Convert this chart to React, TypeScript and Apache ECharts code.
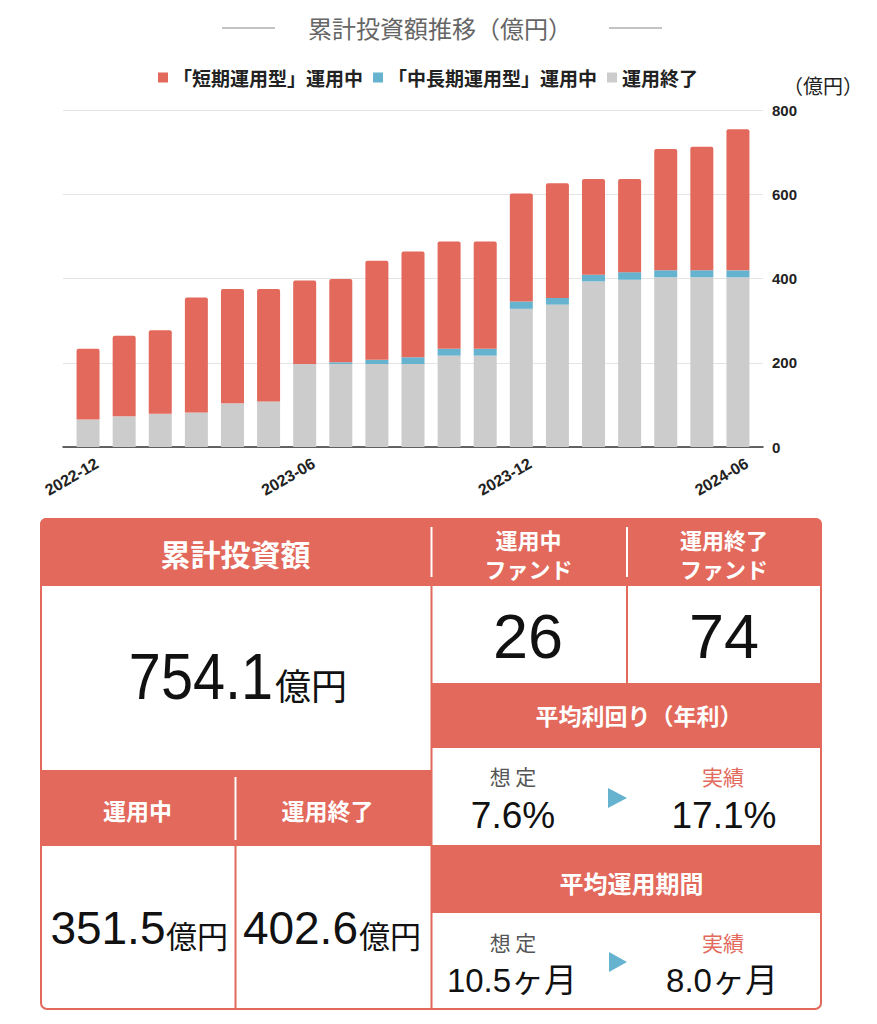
import React, { useEffect, useRef } from "react";
import * as echarts from "echarts";

// ---- data ----
const months = [
  "2022-12", "2023-01", "2023-02", "2023-03", "2023-04", "2023-05", "2023-06",
  "2023-07", "2023-08", "2023-09", "2023-10", "2023-11", "2023-12",
  "2024-01", "2024-02", "2024-03", "2024-04", "2024-05", "2024-06",
];
const shortTerm = [168, 191, 198, 273, 271, 267, 198, 198, 235, 251, 255, 255, 256, 272, 227, 221, 288, 293.5, 334.8];
const midLong = [0, 0, 0, 0, 0, 0, 0, 4, 10, 16, 16, 16, 17.5, 16, 16, 18, 16.5, 16.5, 16.7];
const ended = [65, 73, 79, 82, 104, 108, 197, 197, 197, 197, 217, 217, 328, 338, 393, 397, 403, 403, 402.6];
const seriesNames = ["「短期運用型」運用中", "「中長期運用型」運用中", "運用終了"];
const yTicks = [0, 200, 400, 600, 800];

const totalInvest = "754.1";
const activeAmount = "351.5";
const endedAmount = "402.6";
const activeFunds = "26";
const endedFunds = "74";
const yieldPlan = "7.6%";
const yieldActual = "17.1%";
const periodPlan = "10.5ヶ月";
const periodActual = "8.0ヶ月";

const RED = "#E2695B";
const BLUE = "#66B3CF";
const GRAY = "#CCCCCC";
const CJK = "'Noto Sans CJK JP', sans-serif";
const NUM = "'Liberation Sans', Arial, 'Noto Sans CJK JP', sans-serif";

function txt(text: string, x: number, y: number, size: number, opts: any = {}) {
  const el: any = {
    type: "text",
    x,
    y,
    z: 10,
    style: {
      text,
      fill: opts.fill || "#111",
      fontSize: size,
      fontFamily: opts.family || CJK,
      fontWeight: opts.weight || "normal",
      align: opts.align || "center",
      verticalAlign: "middle",
    },
  };
  if (opts.scaleX) el.scaleX = opts.scaleX;
  return el;
}
function rect(x: number, y: number, w: number, h: number, fill: string, r: any = 0, stroke?: string) {
  return {
    type: "rect",
    z: 5,
    shape: { x, y, width: w, height: h, r },
    style: stroke ? { fill, stroke, lineWidth: 2 } : { fill },
  };
}
function vline(x: number, y1: number, y2: number, color: string, w = 2) {
  return {
    type: "line",
    z: 6,
    shape: { x1: x, y1, x2: x, y2 },
    style: { stroke: color, lineWidth: w },
  };
}

export default function App() {
  const ref = useRef<HTMLDivElement>(null);
  useEffect(() => {
    if (!ref.current) return;
    const chart = echarts.init(ref.current, null, { renderer: "svg" });
    const W = "#FFFFFF";
    const graphic: any[] = [
      // title
      txt("累計投資額推移（億円）", 440, 27, 24, { fill: "#666" }),
      { type: "line", shape: { x1: 222, y1: 28, x2: 275, y2: 28 }, style: { stroke: "#888", lineWidth: 1 } },
      { type: "line", shape: { x1: 609, y1: 28, x2: 662, y2: 28 }, style: { stroke: "#888", lineWidth: 1 } },
      txt("（億円）", 823, 85, 20, { fill: "#222" }),
      // table frame
      rect(41, 519, 780, 490, W, 6, RED),
      rect(40, 518, 782, 68, RED, [6, 6, 0, 0]),
      rect(40, 770, 391, 76, RED),
      rect(431, 683, 391, 65, RED),
      rect(431, 845, 391, 68, RED),
      vline(431.5, 527, 577, W),
      vline(627, 527, 577, W),
      vline(235.5, 777, 840, W),
      vline(431.5, 586, 1009, RED),
      vline(627, 586, 683, RED),
      vline(235.5, 846, 1009, RED),
      // headers
      txt("累計投資額", 235.5, 553, 30, { fill: W, weight: "bold" }),
      txt("運用中", 528.5, 539, 22, { fill: W, weight: "bold" }),
      txt("ファンド", 528.5, 568, 22, { fill: W, weight: "bold" }),
      txt("運用終了", 724, 539, 22, { fill: W, weight: "bold" }),
      txt("ファンド", 724, 568, 22, { fill: W, weight: "bold" }),
      txt("平均利回り（年利）", 639, 715, 23, { fill: W, weight: "bold" }),
      txt("運用中", 137.5, 810, 23, { fill: W, weight: "bold" }),
      txt("運用終了", 327.5, 810, 23, { fill: W, weight: "bold" }),
      txt("平均運用期間", 631.5, 882, 24, { fill: W, weight: "bold" }),
      // values
      txt(totalInvest, 273, 677, 64, { family: NUM, align: "right", scaleX: 0.9 }),
      txt("億円", 275, 684, 36, { align: "left" }),
      txt(activeAmount, 165.5, 928, 46, { family: NUM, align: "right" }),
      txt("億円", 166, 934, 31, { align: "left" }),
      txt(endedAmount, 358, 928, 46, { family: NUM, align: "right" }),
      txt("億円", 359, 934, 31, { align: "left" }),
      txt(activeFunds, 528, 636, 63, { family: NUM }),
      txt(endedFunds, 724, 636, 63, { family: NUM }),
      // yield
      txt("想 定", 513, 776, 21, { fill: "#555" }),
      txt(yieldPlan, 513, 815, 37, { family: NUM }),
      txt("実績", 723, 776, 21, { fill: RED }),
      txt(yieldActual, 724, 815, 37, { family: NUM }),
      { type: "polygon", z: 10, shape: { points: [[608, 788], [627, 798], [608, 808]] }, style: { fill: BLUE } },
      // period
      txt("想 定", 513, 942, 21, { fill: "#555" }),
      txt(periodPlan, 512, 980, 33, { family: NUM }),
      txt("実績", 723, 942, 21, { fill: RED }),
      txt(periodActual, 722, 980, 33, { family: NUM }),
      { type: "polygon", z: 10, shape: { points: [[609, 952], [627, 962], [609, 972]] }, style: { fill: BLUE } },
    ];

    chart.setOption({
      animation: false,
      backgroundColor: "#fff",
      legend: {
        left: 153,
        top: 63,
        itemWidth: 10,
        itemHeight: 10,
        itemGap: 10,
        icon: "rect",
        data: seriesNames,
        textStyle: { fontSize: 19, fontWeight: "bold", color: "#222", fontFamily: CJK },
      },
      grid: [
        { left: 63, right: 114, top: 110, bottom: 577 },
        { left: 70, right: 121, top: 110, bottom: 577 },
        { left: 79, right: 112, top: 110, bottom: 577 },
      ],
      xAxis: [
        {
          gridIndex: 0,
          type: "category",
          data: months,
          axisLine: { show: true, lineStyle: { color: "#333", width: 1.5 } },
          axisTick: { show: false },
          axisLabel: { show: false },
          splitLine: { show: false },
        },
        {
          gridIndex: 1,
          type: "category",
          data: months,
          axisLine: { show: false },
          axisTick: { show: false },
          axisLabel: { show: false },
        },
        {
          gridIndex: 2,
          type: "category",
          data: months,
          axisLine: { show: false },
          axisTick: { show: false },
          axisLabel: {
            interval: 5,
            rotate: 30,
            margin: 15,
            fontSize: 16,
            fontWeight: "bold",
            color: "#222",
            fontFamily: NUM,
          },
        },
      ],
      yAxis: [
        {
          gridIndex: 0,
          type: "value",
          position: "right",
          min: yTicks[0],
          max: yTicks[yTicks.length - 1],
          interval: 200,
          axisLine: { show: false },
          axisTick: { show: false },
          axisLabel: { margin: 9, fontSize: 15, fontWeight: "bold", color: "#222", fontFamily: NUM },
          splitLine: { lineStyle: { color: "#E4E4E4", width: 1 } },
        },
        {
          gridIndex: 1,
          type: "value",
          min: yTicks[0],
          max: yTicks[yTicks.length - 1],
          interval: 200,
          show: false,
          splitLine: { show: false },
        },
        {
          gridIndex: 2,
          type: "value",
          min: yTicks[0],
          max: yTicks[yTicks.length - 1],
          interval: 200,
          show: false,
          splitLine: { show: false },
        },
      ],
      series: [
        {
          name: seriesNames[2],
          type: "bar",
          stack: "total",
          xAxisIndex: 1,
          yAxisIndex: 1,
          barWidth: 23,
          data: ended,
          itemStyle: { color: GRAY },
        },
        {
          name: seriesNames[1],
          type: "bar",
          stack: "total",
          xAxisIndex: 1,
          yAxisIndex: 1,
          barWidth: 23,
          data: midLong,
          itemStyle: { color: BLUE },
        },
        {
          name: seriesNames[0],
          type: "bar",
          stack: "total",
          xAxisIndex: 1,
          yAxisIndex: 1,
          barWidth: 23,
          data: shortTerm,
          itemStyle: { color: RED, borderRadius: [2, 2, 0, 0] },
        },
      ],
      graphic,
    });
    return () => chart.dispose();
  }, []);
  return (
    <div
      ref={ref}
      style={{ position: "absolute", left: 0, top: 0, width: 877, height: 1024, background: "#fff" }}
    />
  );
}
